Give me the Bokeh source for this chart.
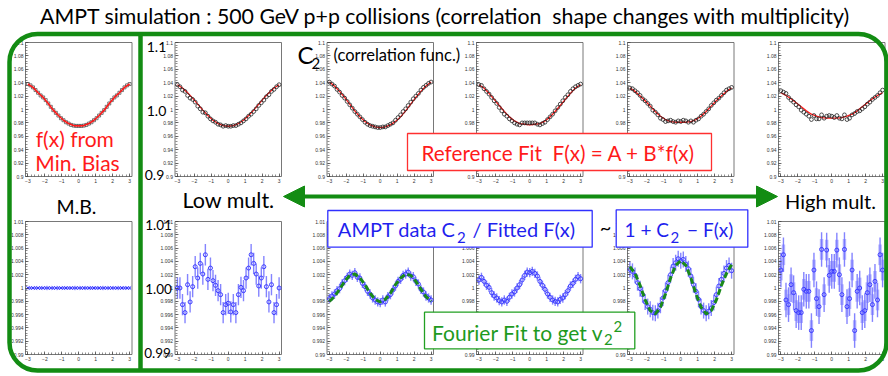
import math
from bokeh.plotting import figure
from bokeh.models import (Range1d, LinearAxis, SingleIntervalTicker, CustomJSTickFormatter,
                          BoxAnnotation, Arrow, NormalHead)
from bokeh.core.properties import value
from bokeh.embed import file_html
from bokeh.resources import INLINE

# ---------------- data ----------------
X = [-3.0, -2.85, -2.7, -2.55, -2.4, -2.25, -2.1, -1.95, -1.8, -1.65, -1.5, -1.35, -1.2, -1.05,
     -0.9, -0.75, -0.6, -0.45, -0.3, -0.15, 0.0, 0.15, 0.3, 0.45, 0.6, 0.75, 0.9, 1.05, 1.2, 1.35,
     1.5, 1.65, 1.8, 1.95, 2.1, 2.25, 2.4, 2.55, 2.7, 2.85, 3.0]
XF = [-3.0, -2.7, -2.4, -2.1, -1.8, -1.5, -1.2, -0.9, -0.6, -0.3, 0.0, 0.3, 0.6, 0.9, 1.2, 1.5,
      1.8, 2.1, 2.4, 2.7, 3.0]

# top row: C2 correlation functions (MB, then low -> high multiplicity)
c2_mb = [1.038, 1.036, 1.033, 1.029, 1.025, 1.021, 1.018, 1.014, 1.009, 1.004, 0.999, 0.995, 0.991,
         0.987, 0.984, 0.981, 0.979, 0.977, 0.976, 0.9755, 0.9755, 0.9755, 0.976, 0.977, 0.979, 0.981,
         0.984, 0.987, 0.991, 0.995, 0.999, 1.004, 1.009, 1.014, 1.018, 1.021, 1.025, 1.029, 1.033,
         1.036, 1.038]
fit_mb = [1.038, 1.033, 1.025, 1.018, 1.009, 0.999, 0.991, 0.984, 0.979, 0.976, 0.9755, 0.976, 0.979,
          0.984, 0.991, 0.999, 1.009, 1.018, 1.025, 1.033, 1.038]
c2_m1 = [1.037, 1.034, 1.029, 1.027, 1.021, 1.017, 1.015, 1.011, 1.005, 1.001, 0.996, 0.995, 0.990,
         0.986, 0.983, 0.981, 0.978, 0.977, 0.975, 0.976, 0.975, 0.975, 0.976, 0.976, 0.978, 0.980,
         0.983, 0.986, 0.990, 0.993, 0.997, 1.001, 1.006, 1.010, 1.014, 1.019, 1.022, 1.027, 1.030,
         1.034, 1.037]
fit_m1 = [1.037, 1.032, 1.025, 1.017, 1.008, 0.999, 0.991, 0.984, 0.979, 0.976, 0.975, 0.976, 0.979,
          0.984, 0.991, 0.999, 1.008, 1.017, 1.025, 1.032, 1.037]
c2_m2 = [1.041, 1.038, 1.035, 1.030, 1.026, 1.021, 1.017, 1.012, 1.007, 1.002, 0.997, 0.993, 0.989,
         0.985, 0.981, 0.978, 0.976, 0.975, 0.974, 0.973, 0.973, 0.974, 0.974, 0.976, 0.978, 0.980,
         0.984, 0.988, 0.992, 0.997, 1.001, 1.006, 1.011, 1.016, 1.020, 1.024, 1.029, 1.033, 1.036,
         1.039, 1.041]
fit_m2 = [1.041, 1.035, 1.027, 1.018, 1.008, 0.998, 0.989, 0.982, 0.977, 0.974, 0.973, 0.974, 0.977,
          0.982, 0.989, 0.998, 1.008, 1.018, 1.027, 1.035, 1.041]
c2_m3 = [1.037, 1.036, 1.031, 1.027, 1.023, 1.018, 1.013, 1.009, 1.003, 0.998, 0.993, 0.990, 0.986,
         0.983, 0.980, 0.978, 0.977, 0.980, 0.980, 0.980, 0.980, 0.980, 0.980, 0.978, 0.977, 0.979,
         0.981, 0.985, 0.989, 0.993, 0.998, 1.003, 1.008, 1.013, 1.018, 1.022, 1.027, 1.031, 1.034,
         1.036, 1.038]
fit_m3 = [1.037, 1.032, 1.024, 1.015, 1.006, 0.997, 0.989, 0.983, 0.979, 0.978, 0.977, 0.978, 0.979,
          0.983, 0.989, 0.997, 1.006, 1.015, 1.024, 1.032, 1.037]
c2_m4 = [1.032, 1.031, 1.028, 1.025, 1.021, 1.016, 1.013, 1.009, 1.005, 0.999, 0.996, 0.992, 0.987,
         0.985, 0.982, 0.983, 0.984, 0.982, 0.981, 0.983, 0.982, 0.984, 0.983, 0.981, 0.983, 0.981,
         0.984, 0.986, 0.990, 0.993, 0.997, 1.001, 1.006, 1.010, 1.014, 1.017, 1.021, 1.025, 1.029,
         1.031, 1.033]
fit_m4 = [1.032, 1.027, 1.020, 1.013, 1.005, 0.997, 0.990, 0.985, 0.982, 0.981, 0.981, 0.981, 0.982,
          0.985, 0.990, 0.997, 1.005, 1.013, 1.020, 1.027, 1.032]
c2_m5 = [1.028, 1.026, 1.024, 1.018, 1.014, 1.011, 1.007, 1.004, 0.999, 0.996, 0.993, 0.990, 0.985,
         0.991, 0.986, 0.986, 0.992, 0.987, 0.990, 0.991, 0.990, 0.988, 0.991, 0.987, 0.986, 0.992,
         0.985, 0.987, 0.992, 0.994, 0.997, 0.998, 1.001, 1.004, 1.008, 1.011, 1.015, 1.018, 1.021,
         1.025, 1.029]
fit_m5 = [1.025, 1.021, 1.016, 1.010, 1.004, 0.998, 0.993, 0.990, 0.988, 0.987, 0.987, 0.987, 0.988,
          0.990, 0.993, 0.998, 1.004, 1.010, 1.016, 1.021, 1.025]

# bottom row: ratio / residual
r_mb = [1.0, 1.0, 1.0, 1.0, 1.0, 1.0, 1.0, 1.0, 1.0, 1.0, 1.0, 1.0, 1.0, 1.0, 1.0, 1.0, 1.0, 1.0,
        1.0, 1.0, 1.0, 1.0, 1.0, 1.0, 1.0, 1.0, 1.0, 1.0, 1.0, 1.0, 1.0, 1.0, 1.0, 1.0, 1.0, 1.0,
        1.0, 1.0, 1.0, 1.0, 1.0]
r_m1 = [1.0000, 1.0000, 0.9975, 0.9963, 1.0005, 0.9979, 1.0002, 1.0032, 1.0015, 1.0037, 1.0021,
        1.0050, 1.0013, 1.0030, 1.0011, 1.0004, 0.9996, 0.9990, 0.9963, 0.9975, 0.9977, 0.9964,
        0.9975, 0.9963, 0.9990, 1.0001, 0.9996, 1.0015, 1.0030, 1.0050, 1.0037, 1.0021, 1.0003,
        1.0015, 1.0032, 1.0002, 0.9979, 1.0005, 0.9963, 0.9975, 1.0000]
r_m2 = [0.9984, 0.9988, 0.9991, 0.9996, 0.9999, 1.0006, 1.0011, 1.0016, 1.0021, 1.0019, 1.0023,
        1.0016, 1.0015, 1.0007, 1.0002, 0.9995, 0.9991, 0.9985, 0.9982, 0.9979, 0.9978, 0.9982,
        0.9979, 0.9987, 0.9990, 0.9997, 1.0003, 1.0010, 1.0013, 1.0019, 1.0021, 1.0024, 1.0018,
        1.0017, 1.0010, 1.0006, 0.9998, 0.9994, 0.9988, 0.9985, 0.9982]
rfit_m2 = [0.9980, 0.9987, 0.9998, 1.0010, 1.0019, 1.0021, 1.0015, 1.0005, 0.9992, 0.9983, 0.9979,
           0.9983, 0.9992, 1.0005, 1.0015, 1.0021, 1.0019, 1.0010, 0.9998, 0.9987, 0.9980]
r_m3 = [1.0012, 1.0016, 1.0010, 1.0004, 1.0001, 0.9993, 0.9988, 0.9985, 0.9981, 0.9979, 0.9982,
        0.9980, 0.9986, 0.9991, 0.9994, 1.0000, 1.0005, 1.0012, 1.0019, 1.0024, 1.0023, 1.0025,
        1.0022, 1.0018, 1.0010, 1.0004, 0.9998, 0.9991, 0.9986, 0.9982, 0.9980, 0.9979, 0.9983,
        0.9985, 0.9990, 0.9996, 1.0003, 1.0007, 1.0013, 1.0017, 1.0014]
r_m4 = [1.0028, 1.0025, 1.0019, 1.0008, 0.9999, 0.9990, 0.9979, 0.9972, 0.9968, 0.9963, 0.9962,
        0.9966, 0.9974, 0.9985, 0.9996, 1.0008, 1.0020, 1.0033, 1.0038, 1.0044, 1.0041, 1.0043,
        1.0036, 1.0029, 1.0018, 1.0005, 0.9995, 0.9983, 0.9972, 0.9966, 0.9962, 0.9965, 0.9970,
        0.9978, 0.9990, 1.0003, 1.0013, 1.0022, 1.0030, 1.0034, 1.0026]
rfit_m4 = [1.0032, 1.0022, 1.0004, 0.9982, 0.9966, 0.9961, 0.9971, 0.9991, 1.0015, 1.0034, 1.0041,
           1.0034, 1.0015, 0.9991, 0.9971, 0.9961, 0.9966, 0.9982, 1.0004, 1.0022, 1.0035]
r_m5 = [1.0027, 1.0050, 0.9982, 0.9975, 1.0005, 0.9993, 0.9966, 0.9963, 0.9963, 0.9998, 0.9995,
        0.9995, 0.9936, 1.0027, 0.9984, 0.9972, 1.0058, 0.9990, 1.0057, 1.0019, 1.0025, 1.0025,
        1.0057, 1.0020, 0.9990, 1.0058, 0.9972, 0.9984, 1.0027, 0.9936, 0.9995, 1.0000, 0.9963,
        0.9966, 0.9993, 1.0005, 0.9975, 1.0010, 0.9982, 1.0050, 1.0027]
r_err = [0.0002, 0.0016, 0.0007, 0.0007, 0.0012, 0.0026]

x_ticks_interval = 1
top_tick_interval = 0.02
bot_tick_interval = 0.002

# ---------------- layout / style ----------------
W_REF, H_REF = 888.0, 376.0
FONT = "Lato"
GREEN = "#138c13"
TGREEN = "#1e9a1e"
RED = "#ff1a1a"
BLUE = "#1f1fee"
PI = math.pi
NB = "\u00a0"


def Y(y):
    return H_REF - y


p = figure(width=888, height=376, x_range=Range1d(0, W_REF), y_range=Range1d(0, H_REF),
           x_axis_type=None, y_axis_type=None, output_backend="svg", toolbar_location=None,
           min_border=0, outline_line_color=None, background_fill_color="white",
           border_fill_color="white")

COL_L = [25.0, 174.5, 326.5, 476.0, 627.0, 778.0]
PANEL_W = 106.5
ROWS = {"t": (42.0, 176.0, 0.9, 1.1, top_tick_interval),
        "b": (221.0, 354.0, 0.99, 1.01, bot_tick_interval)}


def sub_range(lo_px, hi_px, vmin, vmax, total):
    f0, f1 = lo_px / total, hi_px / total
    span = (vmax - vmin) / (f1 - f0)
    start = vmin - f0 * span
    return Range1d(start, start + span)


p.extra_x_ranges = {f"x{c}": sub_range(L, L + PANEL_W, -PI, PI, W_REF) for c, L in enumerate(COL_L)}
p.extra_y_ranges = {f"y{r}": sub_range(H_REF - B, H_REF - T, lo, hi, H_REF)
                    for r, (T, B, lo, hi, st) in ROWS.items()}

fmt_code = "return (Math.round(tick*1000)/1000).toString();"


def style_axis(ax):
    ax.axis_line_color = None
    ax.major_tick_in = 3
    ax.major_tick_out = 0
    ax.minor_tick_in = 2
    ax.minor_tick_out = 0
    ax.major_tick_line_color = "#444"
    ax.minor_tick_line_color = "#444"
    ax.major_tick_line_width = 0.7
    ax.minor_tick_line_width = 0.6
    ax.major_label_text_font_size = "5px"
    ax.major_label_text_color = "#333"
    ax.major_label_text_font = "Liberation Sans"
    ax.major_label_standoff = 2


def panel(c, r):
    xr, yr = f"x{c}", f"y{r}"
    T, B, lo, hi, st = ROWS[r]
    p.quad(left=[-PI], right=[PI], bottom=[lo], top=[hi], fill_color="white",
           line_color="#555", line_width=0.8, x_range_name=xr, y_range_name=yr)
    xa = LinearAxis(x_range_name=xr, y_range_name=yr, fixed_location=lo, bounds=(-PI, PI),
                    ticker=SingleIntervalTicker(interval=x_ticks_interval, num_minor_ticks=5))
    ya = LinearAxis(x_range_name=xr, y_range_name=yr, fixed_location=-PI,
                    bounds=(lo - st * 0.01, hi + st * 0.01),
                    ticker=SingleIntervalTicker(interval=st, num_minor_ticks=5),
                    formatter=CustomJSTickFormatter(code=fmt_code))
    style_axis(xa)
    style_axis(ya)
    p.add_layout(xa, "below")
    p.add_layout(ya, "left")
    return xr, yr


# top row
top = [(c2_mb, fit_mb), (c2_m1, fit_m1), (c2_m2, fit_m2), (c2_m3, fit_m3), (c2_m4, fit_m4),
       (c2_m5, fit_m5)]
for c, (vals, fit) in enumerate(top):
    xr, yr = panel(c, "t")
    if c == 0:
        p.scatter(X, vals, marker="square", size=3, fill_color=None, line_color="#555",
                  line_width=0.8, x_range_name=xr, y_range_name=yr)
        p.line(XF, fit, line_color=RED, line_width=1.6, x_range_name=xr, y_range_name=yr)
    else:
        p.line(XF, fit, line_color=RED, line_width=1.3, x_range_name=xr, y_range_name=yr)
        p.scatter(X, vals, marker="circle", size=3.8, fill_color=None, line_color="#222",
                  line_width=0.8, x_range_name=xr, y_range_name=yr)

# bottom row
bottom = [r_mb, r_m1, r_m2, r_m3, r_m4, r_m5]
fits = {2: rfit_m2, 4: rfit_m4}
for c, vals in enumerate(bottom):
    xr, yr = panel(c, "b")
    e = r_err[c]
    lo_e = [v - e for v in vals]
    hi_e = [v + e for v in vals]
    if c == 5:
        p.segment(X, [v - e * 0.6 for v in vals], X, [v + e * 0.6 for v in vals],
                  line_color="#a9a9ff", line_width=3.5, line_alpha=0.8,
                  x_range_name=xr, y_range_name=yr)
    p.segment(X, lo_e, X, hi_e, line_color="#6f6fff", line_width=1.4, line_alpha=0.85,
              x_range_name=xr, y_range_name=yr)
    if c == 0:
        p.scatter(X, vals, marker="x", size=4.5, line_color="#3535ff", line_width=1,
                  x_range_name=xr, y_range_name=yr)
    else:
        p.scatter(X, vals, marker="circle", size=4, fill_color=None, line_color="#3b3bff",
                  line_width=1, x_range_name=xr, y_range_name=yr)
    if c in fits:
        p.line(XF, fits[c], line_color="#1a8a1a", line_width=3, line_dash="6 3",
               x_range_name=xr, y_range_name=yr)

# ---------------- decorations ----------------
frame = BoxAnnotation(left=9, right=886, top=Y(33.5), bottom=Y(370), fill_color=None,
                      line_color=GREEN, line_alpha=1.0, line_width=4.5, border_radius=28)
p.add_layout(frame)
div = p.segment(x0=[140], y0=[Y(33.5)], x1=[140], y1=[Y(370)], line_color=GREEN, line_width=4.5)
div.level = "overlay"


def box(l, r, t, b, color):
    g = p.quad(left=[l], right=[r], top=[Y(t)], bottom=[Y(b)], fill_color="white",
               line_color=color, line_width=1.3)
    g.level = "overlay"


def txt(x, y, s, size, color="black", align="center"):
    g = p.text(x=[x], y=[Y(y)], text=[s], text_font=value(FONT), text_font_size=f"{size}px",
               text_color=color, text_align=align, text_baseline="middle")
    g.level = "overlay"


box(407, 711, 133, 170, "#ff3030")
box(327.3, 591.7, 210, 246.7, "#3030ff")
box(615.7, 747.3, 209.3, 246.7, "#3030ff")
box(424, 634.3, 311.7, 348.3, "#22a022")

arrow = Arrow(start=NormalHead(size=21, fill_color=GREEN, line_color=GREEN),
              end=NormalHead(size=21, fill_color=GREEN, line_color=GREEN),
              x_start=283, y_start=Y(196), x_end=777, y_end=Y(196),
              line_color=GREEN, line_width=4)
p.add_layout(arrow)

txt(445, 15, f"AMPT simulation : 500 GeV p+p collisions (correlation{NB} shape changes with multiplicity)", 21.3)
txt(297, 54, "C", 24, align="left")
txt(311, 63, "2", 15, align="left")
txt(333, 54, "(correlation func.)", 16.5, align="left")
txt(156, 46, "1.1", 14)
txt(156, 110, "1.0", 14)
txt(154, 174, "0.9", 14)
txt(158, 224, "1.01", 13.5)
txt(158, 288, "1.00", 13.5)
txt(157, 352, "0.99", 13.5)
txt(74.3, 138, "f(x) from", 21, RED)
txt(77, 162, "Min. Bias", 21, RED)
txt(76, 206, "M.B.", 19.5)
txt(228, 199, "Low mult.", 21.5)
txt(830, 200, "High mult.", 20)
txt(558, 152, f"Reference Fit{NB} F(x) = A + B*f(x)", 20.7, RED)
txt(455, 228.5, "AMPT data C", 20, BLUE, align="right")
txt(456.5, 237, "2", 15, BLUE, align="left")
txt(472, 228.5, "/ Fitted F(x)", 20, BLUE, align="left")
txt(605, 226, "~", 20)
txt(668.5, 228.5, "1 + C", 19, BLUE, align="right")
txt(670, 237, "2", 15, BLUE, align="left")
txt(686.5, 228.5, "\u2212 F(x)", 19, BLUE, align="left")
txt(603, 332, "Fourier Fit to get v", 21, TGREEN, align="right")
txt(603.5, 339, "2", 15, TGREEN, align="left")
txt(613, 326, "2", 15, TGREEN, align="left")

open("out.html", "w").write(file_html(p, INLINE))
